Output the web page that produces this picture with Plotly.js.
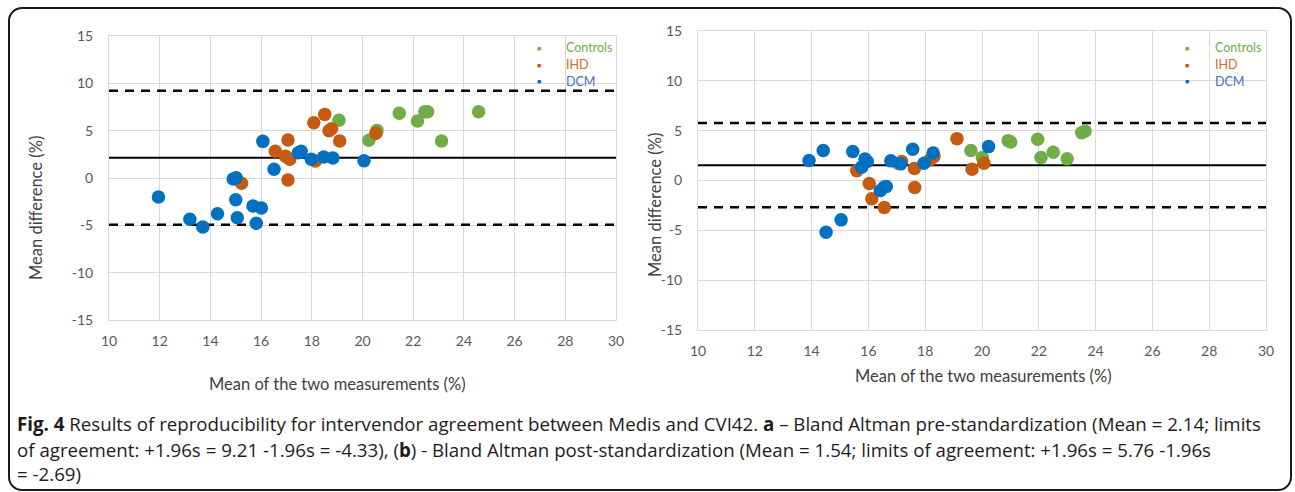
<!DOCTYPE html>
<html>
<head>
<meta charset="utf-8">
<script src="https://cdn.plot.ly/plotly-3.0.1.min.js"></script>
<style>
  html, body { margin: 0; padding: 0; background: #fff; }
  #wrap { position: relative; width: 1295px; height: 492px; overflow: hidden; }
  #chart { position: absolute; left: 0; top: 0; width: 1295px; height: 492px; }
  #frame { position: absolute; left: 8px; top: 7px; width: 1280px; height: 480px;
           border: 2px solid #1a1a1a; border-radius: 14px; pointer-events: none; }
</style>
</head>
<body>
<div id="wrap">
  <div id="chart"></div>
  <div id="frame"></div>
</div>
<script>
// ---------- data: panel a (pre-standardization) ----------
const controlsA_x = [19.07, 20.57, 20.25, 21.45, 22.17, 22.46, 22.57, 23.12, 24.58];
const controlsA_y = [6.09, 5.03, 3.98, 6.83, 6.02, 7.0, 7.0, 3.91, 7.0];
const ihdA_x = [15.23, 16.56, 17.06, 16.96, 17.13, 17.06, 18.08, 18.51, 18.68, 18.78, 19.10, 18.14, 20.53];
const ihdA_y = [-0.56, 2.82, 4.01, 2.29, 1.97, -0.21, 5.84, 6.72, 5.0, 5.2, 3.91, 1.80, 4.72];
const dcmA_x = [11.95, 13.19, 13.70, 14.28, 14.90, 15.02, 15.00, 15.06, 15.68, 16.01, 15.81, 16.07, 16.51, 17.47, 17.58, 17.98, 18.47, 18.83, 20.06];
const dcmA_y = [-2.0, -4.36, -5.17, -3.77, -0.1, 0.03, -2.29, -4.19, -2.96, -3.17, -4.79, 3.87, 0.92, 2.67, 2.82, 1.97, 2.22, 2.11, 1.83];
const statsA = { mean: 2.14, upper: 9.21, lower: -4.93 };

// ---------- data: panel b (post-standardization) ----------
const controlsB_x = [19.61, 20.01, 20.92, 21.01, 21.96, 22.08, 22.51, 23.0, 23.51, 23.63];
const controlsB_y = [3.0, 2.3, 4.0, 3.87, 4.14, 2.3, 2.84, 2.17, 4.8, 4.97];
const ihdB_x = [15.59, 16.03, 16.12, 16.56, 17.17, 17.05, 17.62, 17.63, 18.31, 18.17, 19.12, 19.65, 20.07];
const ihdB_y = [0.97, -0.3, -1.83, -2.7, 1.9, 1.74, 1.2, -0.7, 2.4, 2.07, 4.2, 1.14, 1.74];
const dcmB_x = [13.91, 14.41, 15.45, 15.88, 15.96, 15.76, 16.42, 16.56, 16.63, 16.79, 17.14, 17.56, 17.96, 18.28, 20.23, 15.04, 14.51];
const dcmB_y = [2.0, 3.0, 2.9, 2.15, 1.9, 1.34, -1.0, -0.66, -0.6, 1.97, 1.67, 3.14, 1.74, 2.75, 3.4, -3.95, -5.2];
const statsB = { mean: 1.54, upper: 5.76, lower: -2.69 };

// ---------- axes / labels ----------
const xRange = [10, 30];
const yRange = [-15, 15];
const xTicks = [10, 12, 14, 16, 18, 20, 22, 24, 26, 28, 30];
const yTicks = [-15, -10, -5, 0, 5, 10, 15];
const yTickText = ['-15', '-10', '-5', '0', '5', '10', '15'];
const groupNames = ['Controls', 'IHD', 'DCM'];
const groupColors = ['#70AD47', '#C55A11', '#0070C0'];
const legendTextColors = ['#70AD47', '#D0692A', '#4472C4'];
const xTitle = 'Mean of the two measurements (%)';
const yTitle = 'Mean difference (%)';

const tickFont = { family: 'Lato, "Open Sans", sans-serif', size: 14, color: '#595959' };
const titleFont = { family: 'Lato, "Open Sans", sans-serif', size: 16.5, color: '#404040' };

function panelTraces(sets, stats, xa, ya) {
  const tr = [];
  [['upper', 'dash'], ['lower', 'dash'], ['mean', 'solid']].forEach(([k, d]) => {
    tr.push({ x: xRange, y: [stats[k], stats[k]], xaxis: xa, yaxis: ya, type: 'scatter', mode: 'lines',
      line: { color: '#000', width: d === 'dash' ? 2.5 : 2, dash: d === 'dash' ? '9px,7px' : 'solid' },
      showlegend: false, hoverinfo: 'skip' });
  });
  sets.forEach((s, i) => {
    tr.push({ x: s[0], y: s[1], xaxis: xa, yaxis: ya, type: 'scatter', mode: 'markers',
      marker: { color: groupColors[i], size: 13.5, line: { width: 0 } },
      showlegend: false, name: groupNames[i] });
  });
  return tr;
}

const traces = [].concat(
  panelTraces([[controlsA_x, controlsA_y], [ihdA_x, ihdA_y], [dcmA_x, dcmA_y]], statsA, 'x', 'y'),
  panelTraces([[controlsB_x, controlsB_y], [ihdB_x, ihdB_y], [dcmB_x, dcmB_y]], statsB, 'x2', 'y2')
);

const W = 1295, H = 492;
const px = v => v / W, py = v => 1 - v / H;

function xAxis(domain, anchor) {
  return { domain: domain, anchor: anchor, range: xRange, tickvals: xTicks, ticks: '',
    showgrid: true, gridcolor: '#d9d9d9', gridwidth: 1, zeroline: false,
    showline: true, linecolor: '#d9d9d9', mirror: true, tickfont: tickFont, ticklabelstandoff: 8, fixedrange: true };
}
function yAxis(domain, anchor) {
  return { domain: domain, anchor: anchor, range: yRange, tickvals: yTicks, ticktext: yTickText, ticks: '',
    showgrid: true, gridcolor: '#d9d9d9', gridwidth: 1, zeroline: false,
    showline: true, linecolor: '#d9d9d9', mirror: true, tickfont: tickFont, ticklabelstandoff: 12, fixedrange: true };
}

// legend (dots + coloured names) for each panel
const legendFont = { family: 'Lato, sans-serif', size: 12.5 };
const legendRowsY = [48, 64.5, 81];
function legendAnns(dotX, textX) {
  const a = [];
  groupNames.forEach((n, i) => {
    a.push({ text: '●', xref: 'paper', yref: 'paper', x: px(dotX), y: py(legendRowsY[i]), showarrow: false,
      font: { family: 'DejaVu Sans', size: 5, color: groupColors[i] }, xanchor: 'center', yanchor: 'middle' });
    a.push({ text: n, xref: 'paper', yref: 'paper', x: px(textX), y: py(legendRowsY[i]), showarrow: false,
      font: Object.assign({}, legendFont, { color: legendTextColors[i] }), xanchor: 'left', yanchor: 'middle' });
  });
  return a;
}

const capFont = { family: '"Open Sans", Lato, sans-serif', size: 18.7, color: '#1f1b1c' };

const layout = {
  width: W, height: H,
  margin: { l: 0, r: 0, t: 0, b: 0 },
  paper_bgcolor: '#fff', plot_bgcolor: '#fff',
  showlegend: false,
  xaxis: xAxis([px(109), px(616)], 'y'),
  yaxis: yAxis([py(320), py(36)], 'x'),
  xaxis2: xAxis([px(698), px(1266)], 'y2'),
  yaxis2: yAxis([py(330), py(31)], 'x2'),
  annotations: [].concat(legendAnns(539, 564), legendAnns(1187, 1213), [
    { text: xTitle, xref: 'paper', yref: 'paper', x: px(337.5), y: py(384), showarrow: false, font: titleFont, xanchor: 'center', yanchor: 'middle' },
    { text: xTitle, xref: 'paper', yref: 'paper', x: px(983), y: py(376), showarrow: false, font: titleFont, xanchor: 'center', yanchor: 'middle' },
    { text: yTitle, xref: 'paper', yref: 'paper', x: px(36), y: py(208), showarrow: false, font: titleFont, textangle: -90, xanchor: 'center', yanchor: 'middle' },
    { text: yTitle, xref: 'paper', yref: 'paper', x: px(655), y: py(205), showarrow: false, font: titleFont, textangle: -90, xanchor: 'center', yanchor: 'middle' },
    { text: '<b>Fig. 4</b> Results of reproducibility for intervendor agreement between Medis and CVI42. <b>a</b> – Bland Altman pre-standardization (Mean = 2.14; limits',
      xref: 'paper', yref: 'paper', x: px(15), y: py(423), showarrow: false, font: capFont, xanchor: 'left', yanchor: 'middle' },
    { text: 'of agreement: +1.96s = 9.21 -1.96s = -4.33), (<b>b</b>) - Bland Altman post-standardization (Mean = 1.54; limits of agreement: +1.96s = 5.76 -1.96s',
      xref: 'paper', yref: 'paper', x: px(15), y: py(449), showarrow: false, font: capFont, xanchor: 'left', yanchor: 'middle' },
    { text: '= -2.69)',
      xref: 'paper', yref: 'paper', x: px(15), y: py(473), showarrow: false, font: capFont, xanchor: 'left', yanchor: 'middle' }
  ])
};

Plotly.newPlot('chart', traces, layout, { staticPlot: true, displayModeBar: false });
</script>
</body>
</html>
